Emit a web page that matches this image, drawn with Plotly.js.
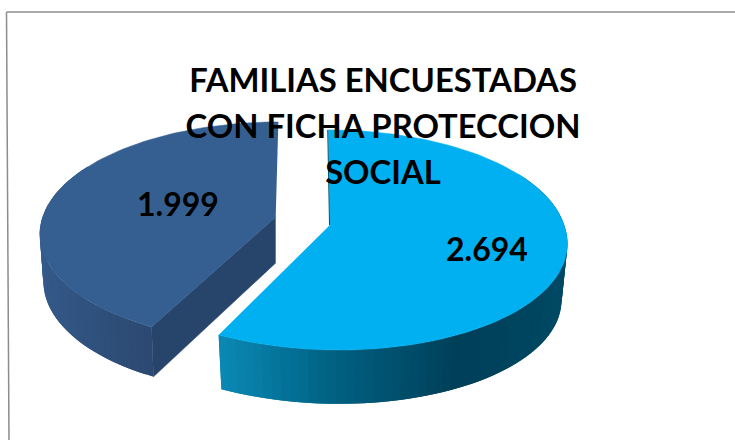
<!DOCTYPE html>
<html>
<head>
<meta charset="utf-8">
<script src="https://cdn.plot.ly/plotly-3.0.1.min.js"></script>
<style>html,body{margin:0;padding:0;background:#fff}#chart{width:735px;height:440px}</style>
</head>
<body>
<div id="chart"></div>
<script>
// Data
const categories = ["Con ficha", "Sin ficha"];
const values = [2694, 1999];
const valueLabels = ["2.694", "1.999"];
const titleLines = ["FAMILIAS ENCUESTADAS", "CON FICHA PROTECCION", "SOCIAL"];

// Colours
const topColors = ["#00b0f0", "#365f91"];
const cutColor = "#27446b";
const edgeColor = "#00506b";
const rimStops = [
  [[-0.45, [10, 138, 181]], [0, [0, 95, 128]], [0.45, [0, 63, 88]], [1, [0, 74, 102]]],
  [[-1, [53, 91, 140]], [-0.45, [43, 73, 113]], [1, [43, 73, 113]]]
];

// Projection of each exploded slice on the page
const K = 0.136;
const views = [
  {cx: 330, cy: 225, A: 234, B: 108, sBack: -2, sFront: -8, xs: 0.975, ys: 0.975, dy: 57},
  {cx: 275.7, cy: 217, A: 233, B: 108, sBack: 3, sFront: 5, xs: 0.985, ys: 1.036, dy: 46}
];

function ring(g, deg, bottom) {
  const t = deg * Math.PI / 180, u = Math.sin(t), v = Math.cos(t), w = 1 + K * v;
  const s = v > 0 ? g.sBack : g.sFront;
  const X = (g.A * u + s * v) / w, Y = g.B * v / w;
  return bottom ? [g.cx + g.xs * X, g.cy + g.dy - g.ys * Y] : [g.cx + X, g.cy - Y];
}
function rimColor(stops, deg) {
  const u = Math.sin(deg * Math.PI / 180);
  let i = 0;
  while (i < stops.length - 2 && u > stops[i + 1][0]) i++;
  const a = stops[i], b = stops[i + 1];
  const f = Math.max(0, Math.min(1, (u - a[0]) / (b[0] - a[0])));
  const c = a[1].map((n, j) => Math.round(n + (b[1][j] - n) * f));
  return "rgb(" + c.join(",") + ")";
}
function poly(pts, color, lineW) {
  return {
    type: "scatter", mode: "lines", x: pts.map(p => p[0]), y: pts.map(p => p[1]),
    fill: "toself", fillcolor: color, line: {color: color, width: lineW || 0},
    hoverinfo: "skip", showlegend: false
  };
}
function arc(g, a0, a1, n, bottom) {
  const out = [];
  for (let i = 0; i <= n; i++) out.push(ring(g, a0 + (a1 - a0) * i / n, bottom));
  return out;
}

const total = values.reduce((a, b) => a + b, 0);
const split = 360 * values[0] / total;
const spans = [[0, split], [split, 360]];
const traces = [];

// Rim bands overlap the following band so no seam shows; painted along the arc.
function rim(idx, a0, a1) {
  const g = views[idx], n = Math.max(8, Math.round(Math.abs(a1 - a0) / 2));
  const step = (a1 - a0) / n;
  for (let i = 0; i < n; i++) {
    const p = a0 + step * i;
    const q = i === n - 1 ? a1 : p + step * 2;
    traces.push(poly([ring(g, p), ring(g, q), ring(g, q, true), ring(g, p, true)],
      rimColor(rimStops[idx], p + step / 2), 0));
  }
}

// Dark slice
rim(1, spans[1][0], 300);
traces.push(poly([[views[1].cx, views[1].cy], ring(views[1], split),
  ring(views[1], split, true), [views[1].cx, views[1].cy + views[1].dy]], cutColor, 0.5));
traces.push(poly([[views[1].cx, views[1].cy]].concat(arc(views[1], spans[1][0], spans[1][1], 90)), topColors[1], 0.5));

// Light slice
rim(0, 60, spans[0][1]);
traces.push(poly([[views[0].cx, views[0].cy]].concat(arc(views[0], spans[0][0], spans[0][1], 120)), topColors[0], 0.5));
const e = ring(views[0], 0);
traces.push({type: "scatter", mode: "lines", x: [e[0] - 0.5, views[0].cx - 0.5], y: [e[1], views[0].cy],
  line: {color: edgeColor, width: 1}, hoverinfo: "skip", showlegend: false});

const titleText = titleLines.map(s => '<span style="font-size:32.8px">' + s + '</span>').join("<br>");

const layout = {
  width: 735, height: 440, margin: {l: 0, r: 0, t: 0, b: 0},
  paper_bgcolor: "#ffffff", plot_bgcolor: "#ffffff", showlegend: false,
  title: {text: titleText, font: {family: "Lato, sans-serif", size: 35.4, color: "#000000", weight: 700},
    x: 383 / 735, xanchor: "center", y: 1 - 92 / 440, yanchor: "top"},
  xaxis: {range: [0, 735], visible: false, fixedrange: true},
  yaxis: {range: [440, 0], visible: false, fixedrange: true},
  shapes: [
    {type: "line", xref: "x", yref: "y", x0: 6.5, y0: 12, x1: 9, y1: 440, line: {color: "#8c8c8c", width: 1.5}},
    {type: "line", xref: "x", yref: "y", x0: 6.5, y0: 12, x1: 735, y1: 12, line: {color: "#8c8c8c", width: 1.5}}
  ],
  annotations: [
    {x: 487, y: 248, text: valueLabels[0]},
    {x: 178, y: 203, text: valueLabels[1]}
  ].map(a => Object.assign(a, {xref: "x", yref: "y", showarrow: false, xanchor: "center", yanchor: "middle",
    font: {family: "Lato, sans-serif", size: 32, color: "#000000", weight: 700}}))
};
Plotly.newPlot("chart", traces, layout, {displayModeBar: false, staticPlot: true});
</script>
</body>
</html>
